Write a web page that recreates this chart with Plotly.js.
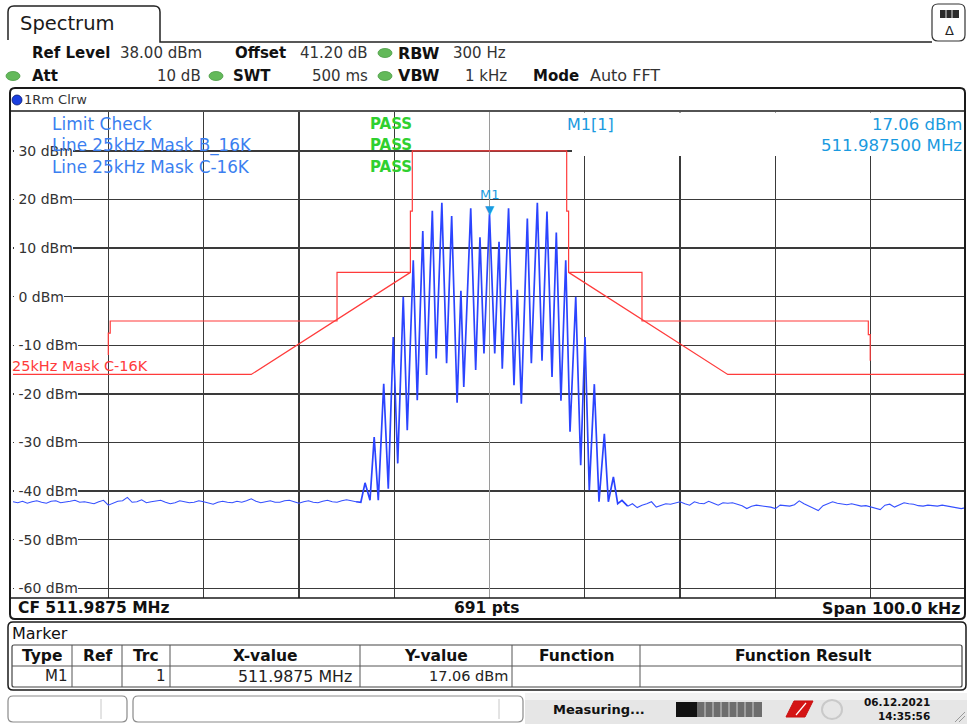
<!DOCTYPE html>
<html><head><meta charset="utf-8">
<script src="https://cdn.plot.ly/plotly-3.0.1.min.js"></script>
<style>html,body{margin:0;padding:0;background:#fff;overflow:hidden}#chart{width:967px;height:724px}</style>
</head><body><div id="chart"></div>
<script>
// ---------------- DATA ----------------
const noiseLeftKHz = [-50,-49.5,-49,-48.5,-48,-47.5,-47,-46.5,-46,-45.5,-45,-44.5,-44,-43.5,-43,-42.5,-42,-41.5,-41,-40.5,-40,-39.5,-39,-38.5,-38,-37.5,-37,-36.5,-36,-35.5,-35,-34.5,-34,-33.5,-33,-32.5,-32,-31.5,-31,-30.5,-30,-29.5,-29,-28.5,-28,-27.5,-27,-26.5,-26,-25.5,-25,-24.5,-24,-23.5,-23,-22.5,-22,-21.5,-21,-20.5,-20,-19.5,-19,-18.5,-18,-17.5,-17,-16.5,-16,-15.5,-15,-14.5,-14];
const noiseLeftDbm = [-42.2,-42.4,-42.1,-42.5,-42.2,-42.0,-42.3,-42.5,-42.1,-42.0,-42.4,-42.3,-42.1,-41.9,-42.3,-42.2,-42.4,-42.6,-42.2,-41.9,-42.9,-42.5,-42.1,-42.0,-41.3,-42.3,-42.2,-41.8,-42.4,-42.2,-42.0,-41.9,-42.3,-42.6,-42.4,-42.0,-42.2,-42.4,-42.3,-42.0,-42.2,-42.5,-42.7,-42.3,-42.1,-42.3,-42.4,-42.1,-42.3,-42.0,-41.6,-42.1,-42.4,-42.2,-42.0,-42.3,-42.3,-42.0,-41.9,-42.2,-42.5,-42.2,-42.0,-42.3,-42.4,-42.1,-41.9,-42.2,-42.3,-42.0,-41.8,-42.0,-42.2];
const signalKHz = [-13.5,-13.06,-12.54,-12.1,-11.67,-11.1,-10.62,-10.1,-9.63,-9.05,-8.63,-8.0,-7.58,-7.0,-6.6,-6.0,-5.6,-5.0,-4.5,-3.97,-3.4,-3.0,-2.7,-1.97,-1.45,-1.0,-0.58,0.0,0.55,1.0,1.34,2.0,2.57,2.92,3.34,3.97,4.39,5.02,5.51,6.03,6.56,7.01,7.5,8.0,8.45,9.05,9.57,10.02,10.47,11.0,11.49,12.05,12.47,13.0,13.45,13.9];
const signalDbm = [-42.3,-38.3,-41.9,-28.9,-41.9,-17.9,-39.5,-8.3,-34.3,0.0,-27.5,7.5,-21.3,13.5,-16.1,17.7,-12.7,19.3,-13.7,16.6,-21.8,1.2,-18.6,18.2,-15.1,12.2,-11.7,17.06,-11.7,11.3,-14.8,18.2,-18.2,1.4,-22.0,16.1,-13.7,19.3,-13.2,17.5,-16.5,13.2,-21.4,7.5,-27.8,0.0,-34.7,-8.3,-39.8,-18.0,-42.2,-28.2,-42.2,-37.1,-42.6,-41.9];
const noiseRightKHz = [14.5,15,15.5,16,16.5,17,17.5,18,18.5,19,19.5,20,20.5,21,21.5,22,22.5,23,23.5,24,24.5,25,25.5,26,26.5,27,27.5,28,28.5,29,29.5,30,30.5,31,31.5,32,32.5,33,33.5,34,34.5,35,35.5,36,36.5,37,37.5,38,38.5,39,39.5,40,40.5,41,41.5,42,42.5,43,43.5,44,44.5,45,45.5,46,46.5,47,47.5,48,48.5,49,49.5,50];
const noiseRightDbm = [-43.1,-42.6,-43.4,-42.9,-42.6,-42.2,-43.3,-42.9,-42.6,-42.7,-42.5,-42.2,-42.6,-42.9,-42.2,-42.5,-42.6,-42.1,-42.5,-42.9,-42.4,-42.5,-42.4,-42.7,-43.0,-43.6,-43.1,-42.9,-43.0,-43.1,-43.3,-43.6,-42.9,-43.0,-43.1,-42.8,-42.0,-42.6,-43.1,-43.5,-44.0,-43.0,-42.6,-42.2,-42.5,-42.7,-42.8,-42.6,-42.9,-43.1,-43.0,-43.3,-43.5,-43.8,-42.9,-42.7,-43.3,-42.9,-42.4,-42.6,-42.7,-43.0,-43.1,-42.9,-43.0,-43.1,-42.9,-43.1,-43.3,-43.5,-43.6,-43.4];
const maskBKHz = [-40,-40,-39.8,-39.8,-16,-16,-8.3,-8.3,-8.1,-8.1,8.1,8.1,8.3,8.3,16,16,39.75,39.75,39.95,39.95];
const maskBDbm = [-12,-7.5,-7.5,-5,-5,5,5,17.6,17.6,30,30,17.6,17.6,5,5,-5,-5,-7.8,-7.8,-13.2];
const maskCKHz = [-50,-25,-8.3,null,8.3,25,50];
const maskCDbm = [-16,-16,5,null,5,-16,-16];
const yTickDbm = [30,20,10,0,-10,-20,-30,-40,-50,-60];
const markerKHz = 0, markerDbm = 17.06;
const markerTableHead = ['Type','Ref','Trc','X-value','Y-value','Function','Function Result'];

// ---------------- helpers ----------------
const L=13, T=112, W=953, H=486;
const px = x => (x-L)/W;
const py = y => (T+H-y)/H;
const P = (x,y) => px(x).toFixed(5)+','+py(y).toFixed(5);
const FONT = 'DejaVu Sans, Verdana, sans-serif';
function rrect(x0,y0,x1,y1,r){
  return `M${P(x0+r,y0)} L${P(x1-r,y0)} Q${P(x1,y0)} ${P(x1,y0+r)} L${P(x1,y1-r)} Q${P(x1,y1)} ${P(x1-r,y1)} L${P(x0+r,y1)} Q${P(x0,y1)} ${P(x0,y1-r)} L${P(x0,y0+r)} Q${P(x0,y0)} ${P(x0+r,y0)} Z`;
}
const shapes=[], anns=[];
function pathS(path, color, width, fill, layer){shapes.push({type:'path',xref:'paper',yref:'paper',path,line:{color,width},fillcolor:fill||'rgba(0,0,0,0)',layer:layer||'above'});}
function lineS(x0,y0,x1,y1,color,width,dash){shapes.push({type:'line',xref:'paper',yref:'paper',x0:px(x0),y0:py(y0),x1:px(x1),y1:py(y1),line:{color,width,dash:dash||'solid'},layer:'above'});}
function rectS(x0,y0,x1,y1,fill,color,width,layer){shapes.push({type:'rect',xref:'paper',yref:'paper',x0:px(x0),y0:py(y0),x1:px(x1),y1:py(y1),fillcolor:fill,line:{color:color||fill,width:width||0},layer:layer||'above'});}
function dot(cx,cy,w,h,fill,edge){shapes.push({type:'circle',xref:'paper',yref:'paper',x0:px(cx-w/2),x1:px(cx+w/2),y0:py(cy+h/2),y1:py(cy-h/2),fillcolor:fill,line:{color:edge||fill,width:0.8},layer:'above'});}
function txt(text,x,y,size,color,opt){
  opt=opt||{};
  anns.push({xref:'paper',yref:'paper',x:px(x),y:py(y),text:(opt.bold?'<b>'+text+'</b>':text),showarrow:false,
    xanchor:opt.anchor||'left',yanchor:'middle',borderpad:opt.pad||0,borderwidth:0,bgcolor:opt.bg||'rgba(0,0,0,0)',
    font:{family:opt.family||FONT,size,color}});
}

// ---------- top header ----------
shapes.push({type:'path',xref:'paper',yref:'paper',layer:'above',line:{color:'#222',width:1.5},
  path:`M${P(8,40)} L${P(8,12)} Q${P(8,6)} ${P(14,6)} L${P(154,6)} Q${P(160,6)} ${P(160,12)} L${P(160,42)} L${P(932,42)}`});
txt('Spectrum',20,24,19.5,'#1a1a1a');
pathS(rrect(932,4,965,41,6),'#333',1.2,'#fff');
rectS(940,10,959,18,'#2a2a2a');
lineS(946,10,946,18,'#ddd',1); lineS(952,10,952,18,'#ddd',1);
txt('Δ',949.5,30,13,'#222',{anchor:'center'});

txt('Ref Level',32,53,15,'#111',{bold:true});
txt('38.00 dBm',120,53,15,'#333');
txt('Offset',235,53,15,'#111',{bold:true});
txt('41.20 dB',368,53,15,'#333',{anchor:'right'});
dot(385,53,14,9,'#63b95a','#4a9a44');
txt('RBW',398,53,16,'#111',{bold:true});
txt('300 Hz',506,53,15,'#333',{anchor:'right'});

dot(13,76,14,9,'#63b95a','#4a9a44');
txt('Att',32,76,15,'#111',{bold:true});
txt('10 dB',201,76,15,'#333',{anchor:'right'});
dot(216,76,14,9,'#63b95a','#4a9a44');
txt('SWT',233,76,15,'#111',{bold:true});
txt('500 ms',368,76,15,'#333',{anchor:'right'});
dot(385,76,14,9,'#63b95a','#4a9a44');
txt('VBW',398,76,16,'#111',{bold:true});
txt('1 kHz',507,76,15,'#333',{anchor:'right'});
txt('Mode',533,76,15,'#111',{bold:true});
txt('Auto FFT',590,76,16,'#333');

// ---------- trace panel ----------
pathS(rrect(10,88,965,619,5),'#1a1a1a',2);
lineS(10,111,965,111,'#1a1a1a',1.5);
lineS(10,598,965,598,'#1a1a1a',1.5);
dot(17,100,10,10,'#1a3fe0','#0a1a70');
txt('1Rm Clrw',24,100,13,'#333');
// white box behind marker info (hides grid there)
rectS(572,112.5,964,156,'#ffffff','#ffffff',0);

// y labels (white background hides the grid line under the label)
yTickDbm.forEach(v=>{
  anns.push({xref:'paper',yref:'y',x:px(13.5),y:v,text:'\u00A0'+v+' dBm',showarrow:false,xanchor:'left',yanchor:'middle',
    bgcolor:'#ffffff',borderpad:0,borderwidth:0,font:{family:FONT,size:14,color:'#333'}});
});
// limit check texts
const limBlue='#3b7ff0', passGreen='#2fd02f', mkBlue='#1a9ae0';
txt('Limit Check',52,124,17,limBlue);
txt('Line 25kHz Mask B_16K',52,145,16.8,limBlue);
txt('Line 25kHz Mask C-16K',52,167,16.8,limBlue);
txt('PASS',370,124,15,passGreen,{bold:true});
txt('PASS',370,145,15,passGreen,{bold:true});
txt('PASS',370,167,15,passGreen,{bold:true});
txt('M1[1]',567,124,16,mkBlue);
txt('17.06 dBm',962,124,16.5,mkBlue,{anchor:'right'});
txt('511.987500 MHz',962,145,16.6,mkBlue,{anchor:'right'});
txt('25kHz Mask C-16K',12,366,14.5,'#ff3b3b');
// marker M1
anns.push({xref:'x',yref:'y',x:markerKHz,y:markerDbm,text:'▼',showarrow:false,xanchor:'center',yanchor:'bottom',yshift:-3,
  borderpad:0,borderwidth:0,font:{family:FONT,size:12,color:mkBlue}});
anns.push({xref:'x',yref:'y',x:markerKHz,y:markerDbm,text:'M1',showarrow:false,xanchor:'center',yanchor:'bottom',yshift:12,
  borderpad:0,borderwidth:0,font:{family:FONT,size:13,color:mkBlue}});

// bottom of trace panel
txt('CF 511.9875 MHz',18,608,15.5,'#111',{bold:true});
txt('691 pts',486,608,15.5,'#111',{bold:true,anchor:'center'});
txt('Span 100.0 kHz',960,608,15.8,'#111',{bold:true,anchor:'right'});

// ---------- marker table ----------
pathS(rrect(8,622,966,690,5),'#1a1a1a',1.5);
txt('Marker',12,633,16,'#111');
pathS(rrect(12,645,962,687,2),'#444',1.2);
lineS(12,666,962,666,'#555',1);
const colSep=[72,122,170,360,512,640];
colSep.forEach(c=>lineS(c,645,c,687,'#555',1));
const colCenters=[42,97,146,265,436,576,803];
markerTableHead.forEach((h,i)=>txt(h,colCenters[i],656,15.5,'#111',{bold:true,anchor:'center'}));
txt('M1',68,676,15,'#222',{anchor:'right'});
txt('1',166,676,15,'#222',{anchor:'right'});
txt('511.9875 MHz',352,676,15.8,'#222',{anchor:'right'});
txt('17.06 dBm',508,676,14.5,'#222',{anchor:'right'});

// ---------- status bar ----------
rectS(525,693,967,724,'#e6e6e6');
rectS(525,693,967,700,'#f2f2f2');
pathS(rrect(8,696,127,722,5),'#8a8a8a',1.2,'#fff');
lineS(101,699,101,719,'#c8c8c8',1);
pathS(rrect(133,696,523,722,5),'#8a8a8a',1.2,'#fff');
lineS(499,699,499,719,'#c8c8c8',1);
txt('Measuring...',553,709,13,'#111',{bold:true});
rectS(676,702,697,717,'#111');
rectS(697,702,762,717,'#6d6d6d');
[705,713,721,729,737,745,753].forEach(xx=>lineS(xx,702,xx,717,'#cfcfcf',1));
pathS(`M${P(786,717)} L${P(794,701)} L${P(813,701)} L${P(805,717)} Z`,'#c81010',1,'#d41414');
lineS(796,715,806,703,'#ffffff',1.2);
shapes.push({type:'circle',xref:'paper',yref:'paper',x0:px(822),x1:px(842),y0:py(719),y1:py(700),line:{color:'#c9c9c9',width:2},fillcolor:'rgba(0,0,0,0)',layer:'above'});
txt('06.12.2021',930,702,10.5,'#111',{bold:true,anchor:'right'});
txt('14:35:56',930,716,10.5,'#111',{bold:true,anchor:'right'});
lineS(955,722,965,712,'#999',1); lineS(959,722,965,716,'#999',1);

// ---------------- traces ----------------
const lastL = noiseLeftKHz.length-1;
const data = [
  {x:noiseLeftKHz,y:noiseLeftDbm,type:'scatter',mode:'lines',line:{color:'#3550ff',width:1.1},hoverinfo:'skip'},
  {x:[noiseLeftKHz[lastL]].concat(signalKHz,[noiseRightKHz[0]]),
   y:[noiseLeftDbm[lastL]].concat(signalDbm,[noiseRightDbm[0]]),
   type:'scatter',mode:'lines',line:{color:'#2b44ff',width:1.7},hoverinfo:'skip'},
  {x:noiseRightKHz,y:noiseRightDbm,type:'scatter',mode:'lines',line:{color:'#3550ff',width:1.1},hoverinfo:'skip'},
  {x:maskCKHz,y:maskCDbm,type:'scatter',mode:'lines',line:{color:'#ff3b3b',width:1.2},connectgaps:false,hoverinfo:'skip'},
  {x:maskBKHz,y:maskBDbm,type:'scatter',mode:'lines',line:{color:'#ff3b3b',width:1.2},hoverinfo:'skip'}
];
const layout = {
  width:967,height:724,margin:{l:L,r:1,t:T,b:126,pad:0},
  paper_bgcolor:'#ffffff',plot_bgcolor:'#ffffff',showlegend:false,
  xaxis:{range:[-50,50],tick0:0,dtick:10,showgrid:true,gridcolor:'#3a3a3a',gridwidth:1.3,showticklabels:false,ticks:'',
    zeroline:true,zerolinecolor:'#9a9a9a',zerolinewidth:1,showline:false,fixedrange:true},
  yaxis:{range:[-62,38],tick0:0,dtick:10,showgrid:true,gridcolor:'#3a3a3a',gridwidth:1.3,showticklabels:false,ticks:'',
    zeroline:false,showline:false,fixedrange:true},
  shapes, annotations:anns
};
Plotly.newPlot('chart',data,layout,{displayModeBar:false,staticPlot:true});
</script></body></html>
